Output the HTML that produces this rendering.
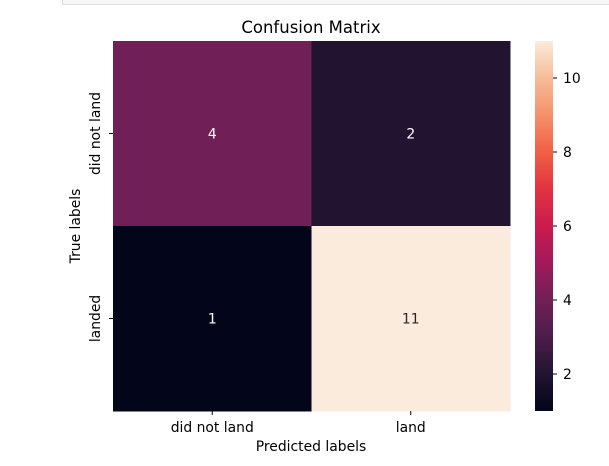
<!DOCTYPE html>
<html><head><meta charset="utf-8"><style>
body{margin:0;background:#fff;width:609px;height:466px;overflow:hidden;font-family:"DejaVu Sans","Liberation Sans",sans-serif}
svg text{font-family:"DejaVu Sans","Liberation Sans",sans-serif}
</style></head><body>
<div style="position:absolute;left:62px;top:-2px;width:560px;height:5px;border:1px solid #ddd;background:#f7f7f7"></div>
<svg id="chart" width="609" height="466" style="position:absolute;left:0;top:0">
<defs><linearGradient id="rocket" x1="0" y1="1" x2="0" y2="0">
<stop offset="0" stop-color="#03051A"/><stop offset="0.1" stop-color="#221331"/><stop offset="0.2" stop-color="#4C1D4B"/><stop offset="0.3" stop-color="#701F57"/><stop offset="0.4" stop-color="#A11A5B"/><stop offset="0.5" stop-color="#CB1B4F"/><stop offset="0.6" stop-color="#E13342"/><stop offset="0.7" stop-color="#F06043"/><stop offset="0.8" stop-color="#F4916B"/><stop offset="0.9" stop-color="#F6BC98"/><stop offset="1" stop-color="#FAEBDD"/>
</linearGradient></defs>
<text x="311" y="33" text-anchor="middle" font-size="16.5" fill="#000">Confusion Matrix</text>
<g id="cells"></g>
<rect x="535" y="41" width="18" height="370" fill="url(#rocket)"/>
<g id="cbticks"></g>
<text x="311" y="451" text-anchor="middle" font-size="13.9">Predicted labels</text>
<text transform="translate(80,226) rotate(-90)" text-anchor="middle" font-size="13.9">True labels</text>
</svg>
<script>
const xCats=["did not land","land"];
const yCats=["did not land","landed"];
const values=[[4,2],[1,11]];
const cbTicks=[2,4,6,8,10];
const vmin=1,vmax=11;
const stops=[[0,"#03051A"],[0.1,"#221331"],[0.2,"#4C1D4B"],[0.3,"#701F57"],[0.4,"#A11A5B"],[0.5,"#CB1B4F"],[0.6,"#E13342"],[0.7,"#F06043"],[0.8,"#F4916B"],[0.9,"#F6BC98"],[1,"#FAEBDD"]];
function hex(h){return [1,3,5].map(i=>parseInt(h.substr(i,2),16));}
function cmap(t){t=Math.max(0,Math.min(1,t));for(let i=1;i<stops.length;i++){if(t<=stops[i][0]){const a=stops[i-1],b=stops[i];const f=(t-a[0])/(b[0]-a[0]);const ca=hex(a[1]),cb=hex(b[1]);return "rgb("+ca.map((v,k)=>Math.round(v+(cb[k]-v)*f)).join(",")+")";}}return stops[stops.length-1][1];}
const L=113,R=510,T=41,B=411;
const cw=(R-L)/xCats.length,ch=(B-T)/yCats.length;
const NS="http://www.w3.org/2000/svg";
const svg=document.getElementById('chart');
const g=document.getElementById('cells');
function el(tag,attrs,parent){const e=document.createElementNS(NS,tag);for(const k in attrs)e.setAttribute(k,attrs[k]);parent.appendChild(e);return e;}
values.forEach((row,i)=>row.forEach((v,j)=>{
 const t=(v-vmin)/(vmax-vmin);
 const r=el('rect',{x:L+j*cw,y:T+i*ch,width:cw+0.5,height:ch+0.5,fill:cmap(t)},g);
 
 
 const tx=el('text',{x:L+(j+0.5)*cw,y:T+(i+0.5)*ch+5,'text-anchor':'middle','font-size':13.9,fill:t<0.6?'#fff':'#262626'},g);
 tx.textContent=v;
 
 
}));
xCats.forEach((c,j)=>{
 const x=L+(j+0.5)*cw;
 const tk=el('line',{x1:x,x2:x,y1:B,y2:B+4,stroke:'#000'},svg);
 
 
 const t=el('text',{x:x,y:B+21,'text-anchor':'middle','font-size':13.9},svg);
 t.textContent=c;
 
 
});
yCats.forEach((c,i)=>{
 const y=T+(i+0.5)*ch;
 const tk=el('line',{x1:L-4,x2:L,y1:y,y2:y,stroke:'#000'},svg);
 
 
 const t=el('text',{transform:'translate('+(L-13)+','+y+') rotate(-90)','text-anchor':'middle','font-size':13.9},svg);
 t.textContent=c;
 
 
});
const cb=document.getElementById('cbticks');
cbTicks.forEach(v=>{
 const y=B-(v-vmin)/(vmax-vmin)*(B-T);
 const tk=el('line',{x1:553,x2:557,y1:y,y2:y,stroke:'#000'},cb);
 
 
 const t=el('text',{x:563,y:y+5,'font-size':13.9},cb);
 t.textContent=v;
 
 
});
</script>
</body></html>
